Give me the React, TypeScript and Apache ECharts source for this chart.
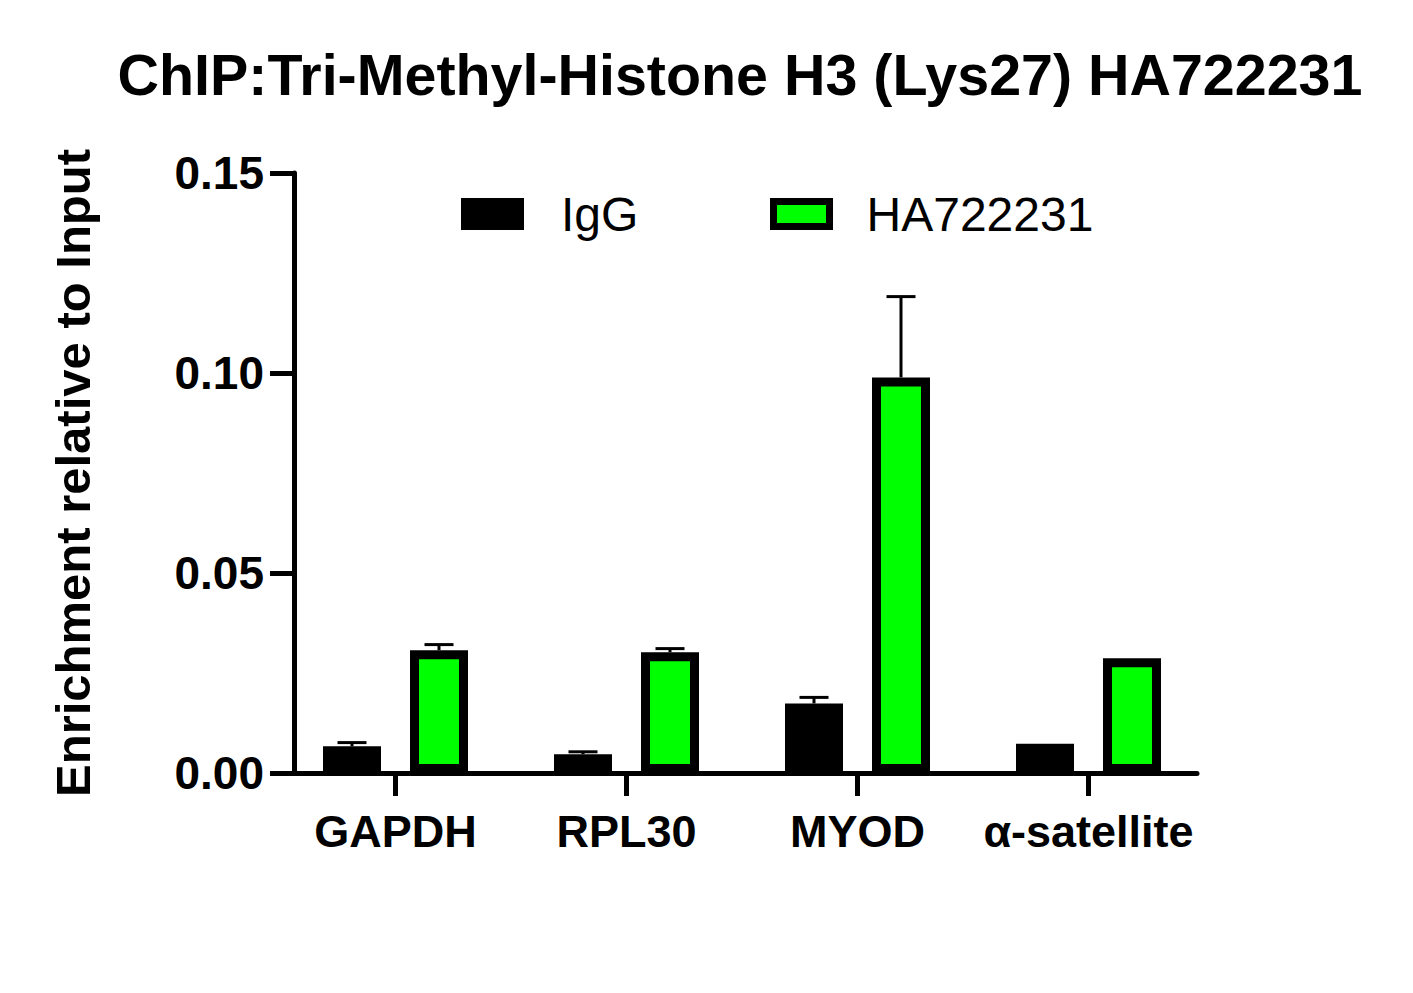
import React, { useEffect, useRef } from "react";
import * as echarts from "echarts";

const categories = ["GAPDH", "RPL30", "MYOD", "α-satellite"];
const iggMean = [0.0067, 0.0047, 0.0174, 0.0073];
const iggErr = [0.0009, 0.0006, 0.0015, 0];
const haMean = [0.0307, 0.0302, 0.0989, 0.0287];
const haErr = [0.0014, 0.0009, 0.0202, 0];
const yTicks = [0, 0.05, 0.1, 0.15];

const FONT = "'Liberation Sans', Arial, sans-serif";
const GREEN = "#00FF00";
const BAR_W = 58;
const GAP_PX = 29;
const HALF = (BAR_W + GAP_PX) / 2;

export default function App() {
  const ref = useRef<HTMLDivElement>(null);
  useEffect(() => {
    document.body.style.margin = "0";
    const chart = echarts.init(ref.current!, null, { renderer: "svg" });

    const errRender = (offset: number) => (params: any, api: any) => {
      const err = api.value(2);
      if (!err) return { type: "group", children: [] };
      const base = api.coord([api.value(0), api.value(1)]);
      const top = api.coord([api.value(0), api.value(1) + err]);
      const x = base[0] + offset;
      const st = { stroke: "#000", lineWidth: 3 };
      return {
        type: "group",
        children: [
          { type: "line", shape: { x1: x, y1: base[1], x2: x, y2: top[1] }, style: st },
          { type: "line", shape: { x1: x - 14.5, y1: top[1], x2: x + 14.5, y2: top[1] }, style: st },
        ],
      };
    };

    chart.setOption({
      animation: false,
      backgroundColor: "#fff",
      title: {
        text: "ChIP:Tri-Methyl-Histone H3 (Lys27) HA722231",
        left: 735,
        top: 41,
        textAlign: "center",
        textStyle: { fontFamily: FONT, fontWeight: "bold", fontSize: 57.4, color: "#000" },
      },
      legend: [
        {
          left: 461,
          top: 190,
          padding: 0,
          itemWidth: 63,
          itemHeight: 32,
          icon: "rect",
          data: [{ name: "IgG", itemStyle: { color: "#000", borderWidth: 0 } }],
          textStyle: { fontFamily: FONT, fontSize: 48, color: "#000", padding: [0, 0, 0, 32] },
        },
        {
          left: 770,
          top: 190,
          padding: 0,
          itemWidth: 56,
          itemHeight: 25,
          icon: "rect",
          data: [{ name: "HA722231", itemStyle: { color: GREEN, borderColor: "#000", borderWidth: 7 } }],
          textStyle: { fontFamily: FONT, fontSize: 48, color: "#000", padding: [0, 0, 0, 32] },
        },
      ],
      grid: [
        { left: 280, width: 924, top: 173, height: 600 },
        { left: 294, width: 903, top: 173, height: 600 },
      ],
      xAxis: [
        {
          type: "category",
          gridIndex: 0,
          data: categories,
          axisLine: { show: false },
          axisTick: { show: true, alignWithLabel: true, length: 23, lineStyle: { width: 5, color: "#000" } },
          axisLabel: { interval: 0, margin: 36, fontFamily: FONT, fontWeight: "bold", fontSize: 45, color: "#000" },
        },
        {
          type: "value",
          gridIndex: 1,
          min: 0,
          max: 1,
          z: 10,
          axisLine: { show: true, lineStyle: { width: 5, color: "#000" } },
          axisTick: { show: false },
          axisLabel: { show: false },
          splitLine: { show: false },
        },
      ],
      yAxis: [
        {
          type: "value",
          gridIndex: 0,
          min: 0,
          max: 0.15,
          show: false,
        },
        {
          type: "value",
          gridIndex: 1,
          min: 0,
          max: 0.15,
          interval: 0.05,
          z: 10,
          name: "Enrichment relative to Input",
          nameLocation: "middle",
          nameGap: 197,
          nameTextStyle: { fontFamily: FONT, fontWeight: "bold", fontSize: 49, color: "#000" },
          axisLine: { show: true, lineStyle: { width: 5, color: "#000" } },
          axisTick: { show: true, length: 24, lineStyle: { width: 5, color: "#000" } },
          axisLabel: {
            margin: 30,
            fontFamily: FONT,
            fontWeight: "bold",
            fontSize: 46,
            color: "#000",
            formatter: (v: number) => (yTicks.some((t) => Math.abs(t - v) < 1e-9) ? v.toFixed(2) : ""),
          },
          splitLine: { show: false },
        },
      ],
      series: [
        {
          name: "IgG",
          type: "bar",
          xAxisIndex: 0,
          yAxisIndex: 0,
          data: iggMean,
          barWidth: BAR_W,
          barGap: `${(GAP_PX / BAR_W) * 100}%`,
          itemStyle: { color: "#000", borderColor: "#000", borderWidth: 9 },
        },
        {
          name: "HA722231",
          type: "bar",
          xAxisIndex: 0,
          yAxisIndex: 0,
          data: haMean,
          barWidth: BAR_W,
          barGap: `${(GAP_PX / BAR_W) * 100}%`,
          itemStyle: { color: GREEN, borderColor: "#000", borderWidth: 9 },
        },
        {
          type: "custom",
          xAxisIndex: 0,
          yAxisIndex: 0,
          renderItem: errRender(-HALF),
          data: iggMean.map((m, i) => [i, m, iggErr[i]]),
          z: 5,
        },
        {
          type: "custom",
          xAxisIndex: 0,
          yAxisIndex: 0,
          renderItem: errRender(HALF),
          data: haMean.map((m, i) => [i, m, haErr[i]]),
          z: 5,
        },
      ],
    });
    return () => chart.dispose();
  }, []);
  return <div ref={ref} style={{ width: 1413, height: 993 }} />;
}
